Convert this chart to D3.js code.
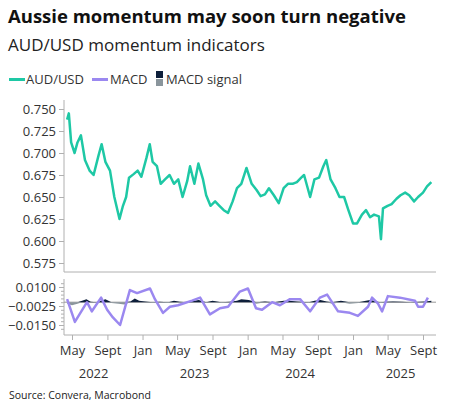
<!DOCTYPE html>
<html><head><meta charset="utf-8">
<script src="https://cdn.jsdelivr.net/npm/d3@7"></script>
<style>body{margin:0;background:#fff;font-family:"Open Sans","Segoe UI",sans-serif}</style>
</head><body><svg id="c" width="453" height="417"></svg>
<script>
// AUD/USD spot (date, level)
var audDates = ["2022-04-14","2022-04-20","2022-04-28","2022-05-10","2022-05-20","2022-06-01","2022-06-15","2022-07-01","2022-07-15","2022-08-01","2022-08-12","2022-08-25","2022-09-10","2022-09-25","2022-10-13","2022-10-25","2022-11-05","2022-11-15","2022-12-01","2022-12-15","2022-12-28","2023-01-15","2023-01-26","2023-02-05","2023-02-20","2023-03-05","2023-03-20","2023-04-05","2023-04-20","2023-05-05","2023-05-20","2023-06-05","2023-06-15","2023-06-30","2023-07-14","2023-07-30","2023-08-10","2023-08-25","2023-09-10","2023-09-25","2023-10-10","2023-10-25","2023-11-10","2023-11-25","2023-12-10","2023-12-28","2024-01-15","2024-02-01","2024-02-15","2024-03-01","2024-03-15","2024-04-01","2024-04-18","2024-05-05","2024-05-20","2024-06-05","2024-06-20","2024-07-05","2024-07-15","2024-08-05","2024-08-20","2024-09-05","2024-09-20","2024-09-30","2024-10-15","2024-11-01","2024-11-15","2024-12-01","2024-12-15","2025-01-01","2025-01-15","2025-02-01","2025-02-15","2025-03-01","2025-03-15","2025-04-01","2025-04-08","2025-04-15","2025-05-01","2025-05-15","2025-06-01","2025-06-15","2025-07-01","2025-07-15","2025-08-01","2025-08-15","2025-09-01","2025-09-15","2025-09-30"];
var audValues = [0.738,0.745,0.712,0.700,0.712,0.720,0.692,0.680,0.675,0.697,0.710,0.690,0.680,0.650,0.625,0.640,0.650,0.672,0.676,0.680,0.673,0.695,0.710,0.690,0.685,0.665,0.670,0.675,0.665,0.670,0.650,0.668,0.685,0.665,0.688,0.670,0.652,0.640,0.645,0.640,0.635,0.632,0.645,0.660,0.665,0.683,0.665,0.658,0.651,0.653,0.660,0.652,0.643,0.660,0.665,0.665,0.667,0.672,0.675,0.650,0.670,0.672,0.685,0.692,0.670,0.660,0.650,0.650,0.636,0.620,0.620,0.630,0.635,0.627,0.630,0.628,0.602,0.637,0.640,0.642,0.648,0.652,0.655,0.652,0.645,0.650,0.655,0.662,0.667];

// MACD line
var macdDates = ["2022-04-14","2022-05-11","2022-06-22","2022-07-09","2022-08-10","2022-08-31","2022-09-20","2022-10-15","2022-11-18","2022-12-13","2023-01-27","2023-02-13","2023-03-13","2023-04-06","2023-05-04","2023-06-22","2023-07-20","2023-08-23","2023-09-27","2023-10-25","2023-12-05","2024-01-02","2024-01-30","2024-02-20","2024-03-26","2024-04-22","2024-05-27","2024-07-01","2024-08-05","2024-09-08","2024-10-03","2024-11-10","2024-12-21","2025-01-18","2025-02-22","2025-03-08","2025-03-29","2025-04-12","2025-05-02","2025-06-13","2025-08-04","2025-08-15","2025-09-01","2025-09-18"];
var macdValues = [0.002,-0.013,0.000,-0.006,0.003,-0.005,-0.010,-0.015,0.008,0.006,0.009,0.002,-0.007,-0.003,-0.002,0.001,0.003,-0.008,-0.004,-0.003,0.007,0.009,-0.004,-0.005,0.000,-0.002,0.002,0.002,-0.006,0.003,0.005,-0.006,-0.007,-0.009,-0.003,0.003,-0.001,-0.006,0.004,0.003,0.001,-0.003,-0.003,0.003];

// MACD minus signal histogram
var histDates = ["2022-04-14","2022-05-01","2022-05-20","2022-06-05","2022-06-20","2022-07-05","2022-07-25","2022-08-10","2022-08-25","2022-09-15","2022-10-10","2022-10-30","2022-11-20","2022-12-05","2022-12-20","2023-01-10","2023-02-05","2023-03-01","2023-04-01","2023-04-20","2023-05-10","2023-06-05","2023-07-01","2023-07-15","2023-08-10","2023-09-01","2023-10-01","2023-11-01","2023-11-25","2023-12-10","2024-01-05","2024-02-01","2024-03-01","2024-04-01","2024-05-05","2024-05-25","2024-06-20","2024-08-01","2024-08-20","2024-09-10","2024-10-01","2024-10-20","2024-11-20","2024-12-20","2025-01-20","2025-02-15","2025-03-01","2025-04-05","2025-04-25","2025-05-20","2025-06-20","2025-07-20","2025-08-20","2025-09-10","2025-09-30"];
var histValues = [-0.001,-0.002,-0.001,0.001,0.002,0.0003,-0.0005,0.001,0.002,-0.0005,-0.001,-0.0015,0.0005,0.0025,0.001,0.0005,-0.0005,0.0003,-0.0005,0.001,0.0003,-0.0003,0.001,0.0015,-0.0005,0.001,-0.0005,0.0003,0.001,0.002,0.0015,-0.001,0.0005,-0.0005,0.001,0.001,0.0005,-0.0005,0.001,0.0015,0.0005,-0.001,0.001,-0.001,-0.0005,0.001,0.0015,-0.0005,0.0003,0.0005,0.0003,-0.0003,0.0003,0.0005,0.001];

var yTopTicks = [0.575,0.600,0.625,0.650,0.675,0.700,0.725,0.750];
var yBotTicks = [0.0100,-0.0025,-0.0150];
var monthTicks = ["2022-05-01","2022-09-01","2023-01-01","2023-05-01","2023-09-01","2024-01-01","2024-05-01","2024-09-01","2025-01-01","2025-05-01","2025-09-01"];
var monthNames = {0:"Jan",4:"May",8:"Sept"};
var yearLabels = [["2022","2022-07-15"],["2023","2023-07-01"],["2024","2024-07-01"],["2025","2025-06-15"]];

var svg = d3.select("#c"),
    pt = d3.timeParse("%Y-%m-%d"),
    col = {aud:"#1ec8a5", macd:"#9b88f0", pos:"#0e1f3b", neg:"#8a959c", txt:"#333", axis:"#b0b0b0"},
    left = 64, right = 436;

var x = d3.scaleTime().domain([pt("2022-05-01"), pt("2025-09-01")]).range([72, 423]);
var yT = d3.scaleLinear().domain([0.575, 0.750]).range([263, 109]);
var yB = d3.scaleLinear().domain([-0.015, 0.010]).range([325, 287]);

// titles
svg.append("text").attr("x",8).attr("y",23).attr("font-size",18.5).attr("font-weight","bold").attr("fill","#111").text("Aussie momentum may soon turn negative");
svg.append("text").attr("x",8).attr("y",51).attr("font-size",17).attr("fill","#222").text("AUD/USD momentum indicators");

// legend
var lg = svg.append("g").attr("font-size",13).attr("fill",col.txt);
lg.append("rect").attr("x",9).attr("y",78).attr("width",16).attr("height",3).attr("fill",col.aud);
lg.append("text").attr("x",26).attr("y",84).text("AUD/USD");
lg.append("rect").attr("x",92).attr("y",78).attr("width",16).attr("height",3).attr("fill",col.macd);
lg.append("text").attr("x",110).attr("y",84).text("MACD");
lg.append("rect").attr("x",156).attr("y",71).attr("width",7).attr("height",7).attr("fill",col.pos);
lg.append("rect").attr("x",156).attr("y",79).attr("width",7).attr("height",7).attr("fill",col.neg);
lg.append("text").attr("x",166).attr("y",84).text("MACD signal");

// top panel axes
var axT = svg.append("g").attr("transform","translate(" + left + ",0)")
    .call(d3.axisLeft(yT).tickValues(yTopTicks).tickFormat(d3.format(".3f")).tickSize(5));
svg.append("line").attr("x1",left).attr("x2",right).attr("y1",272).attr("y2",272).attr("stroke",col.axis);
axT.select(".domain").attr("d","M0,100V272").attr("stroke",col.axis);

// bottom panel axes
var axB = svg.append("g").attr("transform","translate(" + left + ",0)")
    .call(d3.axisLeft(yB).tickValues(yBotTicks).tickFormat(d3.format(".4f")).tickSize(5));
axB.select(".domain").attr("d","M0,279V335").attr("stroke",col.axis);
svg.append("g").attr("transform","translate(" + left + ",0)")
    .call(d3.axisLeft(yB).tickValues(d3.range(-0.0175, 0.0126, 0.0025)).tickFormat("").tickSize(3))
    .select(".domain").remove();
[axT, axB].forEach(a => {
    a.selectAll("text").attr("font-size",13).attr("fill",col.txt).attr("font-family","Open Sans, sans-serif");
    a.selectAll("line").attr("stroke",col.axis);
});
svg.selectAll(".tick line").attr("stroke",col.axis);

var ax = svg.append("g").attr("transform","translate(0,335)")
    .call(d3.axisBottom(x).tickValues(monthTicks.map(pt)).tickSize(5)
        .tickFormat(d => monthNames[d.getMonth()]));
ax.select(".domain").attr("d","M" + left + ",0H" + right).attr("stroke",col.axis);
ax.selectAll("line").attr("stroke",col.axis);
ax.selectAll("text").attr("font-size",13).attr("fill",col.txt).attr("dy","0.9em").attr("font-family","Open Sans, sans-serif");
svg.append("g").selectAll("text").data(yearLabels).enter().append("text")
    .attr("x", d => x(pt(d[1]))).attr("y",378).attr("text-anchor","middle")
    .attr("font-size",13).attr("fill",col.txt).text(d => d[0]);

// zero line
svg.append("line").attr("x1",left).attr("x2",right).attr("y1",yB(0)).attr("y2",yB(0)).attr("stroke","#999").attr("stroke-width",1);

// histogram area split pos/neg
var hist = histDates.map((d,i) => ({date: pt(d), v: histValues[i]}));
svg.append("path").datum(hist).attr("fill",col.pos)
    .attr("d", d3.area().x(d => x(d.date)).y0(yB(0)).y1(d => yB(Math.max(0,d.v))));
svg.append("path").datum(hist).attr("fill",col.neg)
    .attr("d", d3.area().x(d => x(d.date)).y0(yB(0)).y1(d => yB(Math.min(0,d.v))));

// MACD line
var macd = macdDates.map((d,i) => ({date: pt(d), v: macdValues[i]}));
svg.append("path").datum(macd).attr("fill","none").attr("stroke",col.macd).attr("stroke-width",2.5)
    .attr("stroke-linejoin","round")
    .attr("d", d3.line().x(d => x(d.date)).y(d => yB(d.v)));

// AUD/USD line
var aud = audDates.map((d,i) => ({date: pt(d), v: audValues[i]}));
svg.append("path").datum(aud).attr("fill","none").attr("stroke",col.aud).attr("stroke-width",2.5)
    .attr("stroke-linejoin","round")
    .attr("d", d3.line().x(d => x(d.date)).y(d => yT(d.v)));

svg.append("text").attr("x",9).attr("y",399).attr("font-size",10.5).attr("fill","#222").text("Source: Convera, Macrobond");
</script></body></html>
